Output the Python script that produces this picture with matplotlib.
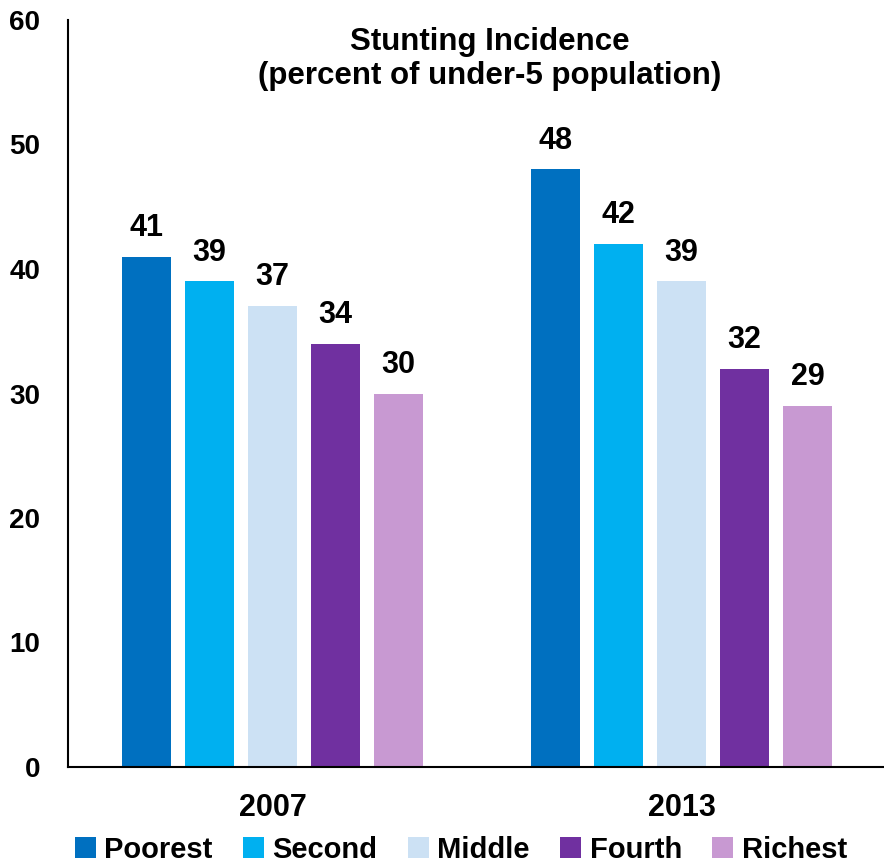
import numpy as np
import matplotlib.pyplot as plt

plt.rcParams['font.family'] = ['Liberation Sans', 'DejaVu Sans']
plt.rcParams['font.weight'] = 'bold'

# data
years = ['2007', '2013']
quintiles = ['Poorest', 'Second', 'Middle', 'Fourth', 'Richest']
values = {
    'Poorest': [41, 48],
    'Second': [39, 42],
    'Middle': [37, 39],
    'Fourth': [34, 32],
    'Richest': [30, 29],
}
colors = ['#0070C0', '#00B0F0', '#CCE1F4', '#7030A0', '#C899D2']

fig = plt.figure(figsize=(8.84, 8.64), dpi=100)
ax = fig.add_axes([68 / 884, 1 - 767 / 864, 818 / 884, 747 / 864])

x = np.arange(len(years))
width = 0.122
step = 0.154
for i, q in enumerate(quintiles):
    offs = (i - 2) * step
    bars = ax.bar(x + offs, values[q], width, color=colors[i], label=q)
    ax.bar_label(bars, padding=10, fontsize=22, fontweight='bold')

ax.set_xlim(-0.5, 1.5)
ax.set_ylim(0, 60)
ax.set_yticks(np.arange(0, 61, 10))
ax.set_xticks(x)
ax.set_xticklabels(years)
ax.tick_params(axis='both', length=0)
ax.tick_params(axis='y', pad=20, labelsize=20)
ax.tick_params(axis='x', pad=19, labelsize=22)
for s in ['top', 'right']:
    ax.spines[s].set_visible(False)
ax.spines['left'].set_linewidth(1.5)
ax.spines['bottom'].set_linewidth(1.5)

fig.text(490 / 884, 1 - 59 / 864, 'Stunting Incidence\n(percent of under-5 population)',
         ha='center', va='center', fontsize=22.5, fontweight='bold', linespacing=1.2)

fig.legend(loc='lower center', bbox_to_anchor=(461 / 884, -0.03), ncol=5, frameon=False,
           fontsize=21, handlelength=0.7, handleheight=0.7, handletextpad=0.3,
           columnspacing=1.05)

fig.savefig('out.png', dpi=100)
